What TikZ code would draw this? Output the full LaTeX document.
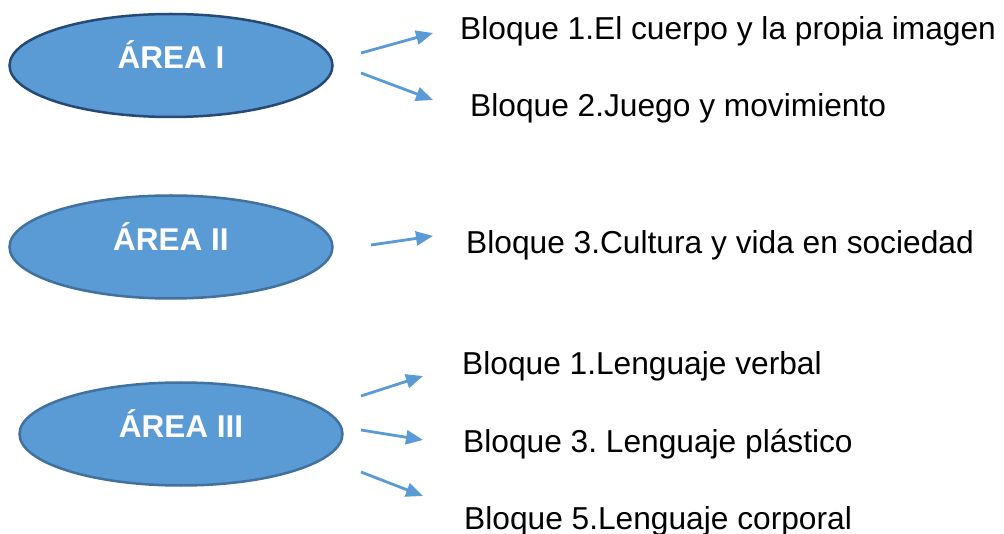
\documentclass[tikz,border=0pt]{standalone}
\usepackage{fontspec}
\setmainfont{Liberation Sans}
\usetikzlibrary{arrows.meta,shapes.geometric}
\definecolor{fillblue}{HTML}{5B9BD5}
\definecolor{edgeblue}{HTML}{41719C}
\definecolor{edgedark}{HTML}{264A74}
\frenchspacing
\tikzset{
  area/.style={ellipse, draw=edgeblue, line width=2.5pt, fill=fillblue, minimum width=323pt, minimum height=103pt, inner sep=0pt},
  arealabel/.style={anchor=base, text=white, font=\fontsize{31.5}{34}\selectfont\bfseries, inner sep=0pt},
  bloque/.style={anchor=base west, font=\fontsize{31.7}{34}\selectfont, inner sep=0pt},
  conn/.style={draw=fillblue, line width=2.8pt, -{Triangle[length=17pt,width=14pt]}}
}
\begin{document}
\begin{tikzpicture}[x=1pt,y=-1pt]
\useasboundingbox (0,0) rectangle (1004,534);
% ellipses
\node[area, draw=edgedark] (e1) at (171,65.5) {};
\node[area] (e2) at (171,247) {};
\node[area] (e3) at (181,434) {};
\node[arealabel] (l1) at (171,69) {ÁREA I};
\node[arealabel] (l2) at (171,251) {ÁREA II};
\node[arealabel] (l3) at (181,438) {ÁREA III};
% texts
\node[bloque] (b1) at (460,40) {Bloque 1.El cuerpo y la propia imagen};
\node[bloque] (b2) at (470,117) {Bloque 2.Juego y movimiento};
\node[bloque] (b3) at (466,254) {Bloque 3.Cultura y vida en sociedad};
\node[bloque] (b4) at (462,375) {Bloque 1.Lenguaje verbal};
\node[bloque] (b5) at (463,452) {Bloque 3. Lenguaje plástico};
\node[bloque] (b6) at (464,529) {Bloque 5.Lenguaje corporal};
% arrow end points
\coordinate (s1) at (361,53);  \coordinate (t1) at (433,33);
\coordinate (s2) at (361,73);  \coordinate (t2) at (433,100);
\coordinate (s3) at (371,245); \coordinate (t3) at (433,236);
\coordinate (s4) at (361,396); \coordinate (t4) at (423,376);
\coordinate (s5) at (361,430); \coordinate (t5) at (423,440);
\coordinate (s6) at (361,472); \coordinate (t6) at (423,496);
\draw[conn] (s1) -- (t1);
\draw[conn] (s2) -- (t2);
\draw[conn] (s3) -- (t3);
\draw[conn] (s4) -- (t4);
\draw[conn] (s5) -- (t5);
\draw[conn] (s6) -- (t6);
\end{tikzpicture}
\end{document}
